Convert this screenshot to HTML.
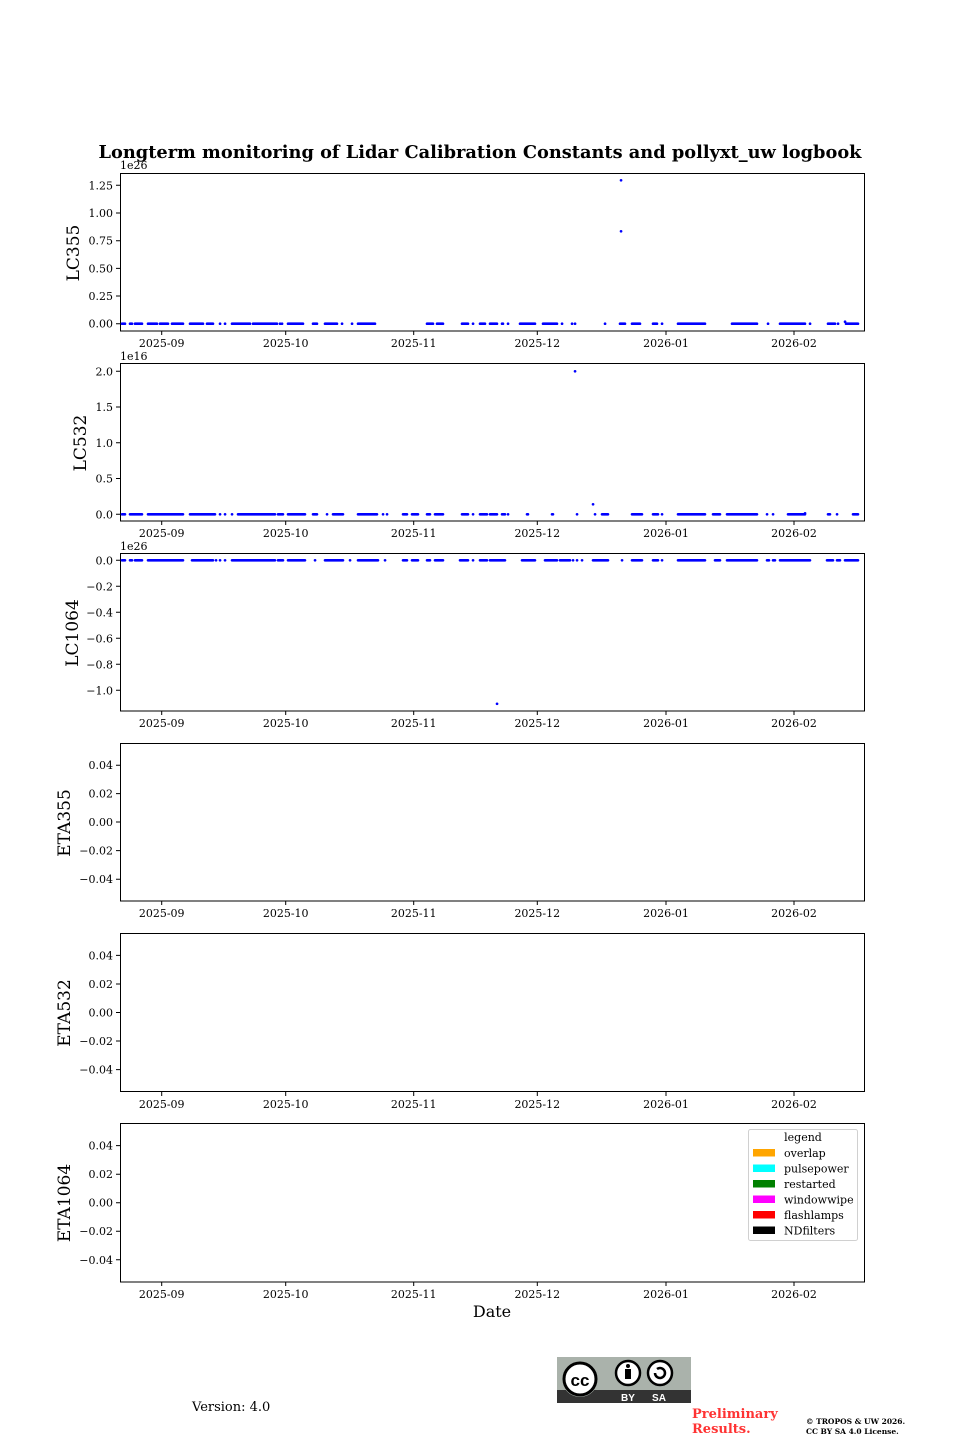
<!DOCTYPE html>
<html><head><meta charset="utf-8"><style>
html,body{margin:0;padding:0;background:#fff;}
svg{display:block;font-family:"DejaVu Serif","Liberation Serif",serif;}
</style></head><body>
<svg width="960" height="1440" viewBox="0 0 960 1440" xmlns="http://www.w3.org/2000/svg">
<rect width="960" height="1440" fill="#fff"/>
<text x="480" y="158" text-anchor="middle" font-size="18" font-weight="bold" textLength="763" lengthAdjust="spacingAndGlyphs">Longterm monitoring of Lidar Calibration Constants and pollyxt_uw logbook</text>

<!-- Panel frames -->
<g fill="none" stroke="#000" stroke-width="1">
<rect x="120.5" y="173.5" width="744" height="157.5"/>
<rect x="120.5" y="363.5" width="744" height="157.5"/>
<rect x="120.5" y="553.5" width="744" height="157.5"/>
<rect x="120.5" y="743.5" width="744" height="157.5"/>
<rect x="120.5" y="933.5" width="744" height="158"/>
<rect x="120.5" y="1123.5" width="744" height="158.5"/>
</g>

<!-- X ticks for all panels -->
<g stroke="#000" stroke-width="1">
<path d="M161.7 331v4M285.7 331v4M413.7 331v4M537.3 331v4M666 331v4M794 331v4"/>
<path d="M161.7 521v4M285.7 521v4M413.7 521v4M537.3 521v4M666 521v4M794 521v4"/>
<path d="M161.7 711v4M285.7 711v4M413.7 711v4M537.3 711v4M666 711v4M794 711v4"/>
<path d="M161.7 901v4M285.7 901v4M413.7 901v4M537.3 901v4M666 901v4M794 901v4"/>
<path d="M161.7 1092v4M285.7 1092v4M413.7 1092v4M537.3 1092v4M666 1092v4M794 1092v4"/>
<path d="M161.7 1282v4M285.7 1282v4M413.7 1282v4M537.3 1282v4M666 1282v4M794 1282v4"/>
</g>
<g font-size="11" text-anchor="middle" fill="#000">
<g transform="translate(0,347)"><text x="161.7">2025-09</text><text x="285.7">2025-10</text><text x="413.7">2025-11</text><text x="537.3">2025-12</text><text x="666">2026-01</text><text x="794">2026-02</text></g>
<g transform="translate(0,537)"><text x="161.7">2025-09</text><text x="285.7">2025-10</text><text x="413.7">2025-11</text><text x="537.3">2025-12</text><text x="666">2026-01</text><text x="794">2026-02</text></g>
<g transform="translate(0,727)"><text x="161.7">2025-09</text><text x="285.7">2025-10</text><text x="413.7">2025-11</text><text x="537.3">2025-12</text><text x="666">2026-01</text><text x="794">2026-02</text></g>
<g transform="translate(0,917)"><text x="161.7">2025-09</text><text x="285.7">2025-10</text><text x="413.7">2025-11</text><text x="537.3">2025-12</text><text x="666">2026-01</text><text x="794">2026-02</text></g>
<g transform="translate(0,1108)"><text x="161.7">2025-09</text><text x="285.7">2025-10</text><text x="413.7">2025-11</text><text x="537.3">2025-12</text><text x="666">2026-01</text><text x="794">2026-02</text></g>
<g transform="translate(0,1298)"><text x="161.7">2025-09</text><text x="285.7">2025-10</text><text x="413.7">2025-11</text><text x="537.3">2025-12</text><text x="666">2026-01</text><text x="794">2026-02</text></g>
</g>

<!-- Y ticks -->
<g stroke="#000" stroke-width="1">
<path d="M120 323.7h-4M120 296h-4M120 268.4h-4M120 240.7h-4M120 213h-4M120 185.3h-4"/>
<path d="M120 514.3h-4M120 478.5h-4M120 442.8h-4M120 407h-4M120 371.3h-4"/>
<path d="M120 560.3h-4M120 586.3h-4M120 612.3h-4M120 638.3h-4M120 664.3h-4M120 690.3h-4"/>
<path d="M120 765.2h-4M120 793.6h-4M120 822h-4M120 850.6h-4M120 879.2h-4"/>
<path d="M120 955.4h-4M120 984h-4M120 1012.5h-4M120 1041h-4M120 1069.6h-4"/>
<path d="M120 1145.6h-4M120 1174.2h-4M120 1202.7h-4M120 1231.2h-4M120 1259.8h-4"/>
</g>
<g font-size="11" text-anchor="end" fill="#000">
<text x="113" y="327.7">0.00</text><text x="113" y="300">0.25</text><text x="113" y="272.4">0.50</text><text x="113" y="244.7">0.75</text><text x="113" y="217">1.00</text><text x="113" y="189.3">1.25</text>
<text x="113" y="518.3">0.0</text><text x="113" y="482.5">0.5</text><text x="113" y="446.8">1.0</text><text x="113" y="411">1.5</text><text x="113" y="375.3">2.0</text>
<text x="113" y="564.3">0.0</text><text x="113" y="590.3">−0.2</text><text x="113" y="616.3">−0.4</text><text x="113" y="642.3">−0.6</text><text x="113" y="668.3">−0.8</text><text x="113" y="694.3">−1.0</text>
<text x="113" y="769.2">0.04</text><text x="113" y="797.6">0.02</text><text x="113" y="826">0.00</text><text x="113" y="854.6">−0.02</text><text x="113" y="883.2">−0.04</text>
<text x="113" y="959.4">0.04</text><text x="113" y="988">0.02</text><text x="113" y="1016.5">0.00</text><text x="113" y="1045">−0.02</text><text x="113" y="1073.6">−0.04</text>
<text x="113" y="1149.6">0.04</text><text x="113" y="1178.2">0.02</text><text x="113" y="1206.7">0.00</text><text x="113" y="1235.2">−0.02</text><text x="113" y="1263.8">−0.04</text>
</g>
<g font-size="11" fill="#000">
<text x="120" y="169">1e26</text>
<text x="120" y="360">1e16</text>
<text x="120" y="550">1e26</text>
</g>

<!-- Y labels -->
<g font-size="17" text-anchor="middle" fill="#000">
<text transform="translate(79,253) rotate(-90)">LC355</text>
<text transform="translate(86,443) rotate(-90)">LC532</text>
<text transform="translate(78,633) rotate(-90)">LC1064</text>
<text transform="translate(70,823) rotate(-90)">ETA355</text>
<text transform="translate(70,1013) rotate(-90)">ETA532</text>
<text transform="translate(70,1203) rotate(-90)">ETA1064</text>
</g>
<text x="492" y="1317" font-size="16" text-anchor="middle">Date</text>

<!-- Data -->
<g fill="none" stroke="#0000ff" stroke-width="2.6" stroke-linecap="round">
<path transform="translate(0,323.7)" d="M122 0h3M130 0h2M135 0h7M148 0h9M160 0h8M172 0h11M190 0h13M207 0h6M220 0h0.1M225 0h0.1M232 0h18M253 0h24M280 0h0.1M282 0h0.1M288 0h15M313 0h4M325 0h12M342 0h0.1M352 0h0.1M358 0h17M427 0h6M437 0h6M462 0h6M473 0h0.1M480 0h5M490 0h7M502 0h1M508 0h0.1M520 0h15M543 0h14M562 0h0.1M572 0h0.1M575 0h0.1M605 0h0.1M620 0h5M632 0h8M653 0h4M662 0h0.1M678 0h27M732 0h25M768 0h0.1M780 0h25M810 0h0.1M828 0h7M838 0h0.1M846 0h12M845 -2h0.1M621 -143.4h0.1M621 -92.4h0.1"/>
<path transform="translate(0,514.3)" d="M122 0h3M130 0h12M148 0h35M190 0h25M220 0h0.1M225 0h0.1M232 0h0.1M238 0h37M278 0h5M288 0h17M313 0h4M327 0h0.1M333 0h10M358 0h19M383 0h0.1M387 0h0.1M403 0h4M412 0h6M427 0h3M435 0h8M462 0h6M473 0h0.1M480 0h7M490 0h7M502 0h3M508 0h0.1M527 0h1M552 0h1M577 0h0.1M595 0h0.1M602 0h6M632 0h10M653 0h5M662 0h0.1M678 0h27M713 0h7M727 0h30M767 0h0.1M773 0h0.1M788 0h17M805 -1h0.1M828 0h2M837 0h0.1M853 0h5M575 -143h0.1M593 -10h0.1"/>
<path transform="translate(0,560.3)" d="M122 0h3M130 0h2M135 0h7M148 0h35M192 0h21M216 0h0.1M220 0h0.1M225 0h0.1M232 0h43M278 0h5M288 0h17M315 0h0.1M325 0h18M350 0h0.1M358 0h20M385 0h0.1M403 0h4M412 0h6M427 0h3M435 0h8M460 0h8M473 0h0.1M480 0h7M490 0h15M522 0h13M545 0h12M560 0h10M573 0h0.1M577 0h0.1M582 0h0.1M593 0h15M622 0h0.1M632 0h10M653 0h5M662 0h0.1M678 0h27M715 0h5M727 0h30M767 0h2M773 0h2M780 0h30M827 0h6M837 0h3M845 0h13M497 143.5h0.1"/>
</g>

<!-- Legend -->
<rect x="748.5" y="1129.5" width="109" height="111" rx="2" fill="#fff" stroke="#d0d0d0" stroke-width="1"/>
<g font-size="11" fill="#000">
<text x="803" y="1141" text-anchor="middle">legend</text>
<rect x="753" y="1149" width="22" height="7.5" fill="#ffa500"/><text x="784" y="1157">overlap</text>
<rect x="753" y="1164.5" width="22" height="7.5" fill="#00ffff"/><text x="784" y="1172.5">pulsepower</text>
<rect x="753" y="1180" width="22" height="7.5" fill="#008000"/><text x="784" y="1188">restarted</text>
<rect x="753" y="1195.5" width="22" height="7.5" fill="#ff00ff"/><text x="784" y="1203.5">windowwipe</text>
<rect x="753" y="1211" width="22" height="7.5" fill="#ff0000"/><text x="784" y="1219">flashlamps</text>
<rect x="753" y="1226.5" width="22" height="7.5" fill="#000000"/><text x="784" y="1234.5">NDfilters</text>
</g>

<!-- Footer -->
<text x="192" y="1411" font-size="13">Version: 4.0</text>
<g>
<rect x="557" y="1357" width="134" height="46" fill="#aab2ab"/>
<rect x="557" y="1390" width="134" height="13" fill="#333"/>
<circle cx="580" cy="1379" r="18" fill="#aab2ab"/>
<circle cx="580" cy="1379" r="16" fill="#fff" stroke="#000" stroke-width="3"/>
<text x="580" y="1386" font-family="Liberation Sans, sans-serif" font-weight="bold" font-size="17" text-anchor="middle" fill="#000">cc</text>
<circle cx="628" cy="1373" r="12" fill="#fff" stroke="#000" stroke-width="2.5"/>
<circle cx="628" cy="1366" r="2" fill="#000"/>
<rect x="625" y="1369" width="6" height="10" fill="#000"/>
<circle cx="660" cy="1373" r="12" fill="#fff" stroke="#000" stroke-width="2.5"/>
<path d="M655 1373a5 5 0 1 0 2-4" fill="none" stroke="#000" stroke-width="2.5"/>
<text x="628" y="1401" font-family="Liberation Sans, sans-serif" font-weight="bold" font-size="10" text-anchor="middle" fill="#fff">BY</text>
<text x="659" y="1401" font-family="Liberation Sans, sans-serif" font-weight="bold" font-size="10" text-anchor="middle" fill="#fff">SA</text>
</g>
<g font-size="13" font-weight="bold" fill="#ff3333">
<text x="692" y="1418">Preliminary</text>
<text x="692" y="1433">Results.</text>
</g>
<g font-size="7.5" font-weight="bold" fill="#000">
<text x="806" y="1424">© TROPOS &amp; UW 2026.</text>
<text x="806" y="1434">CC BY SA 4.0 License.</text>
</g>
</svg>
</body></html>
